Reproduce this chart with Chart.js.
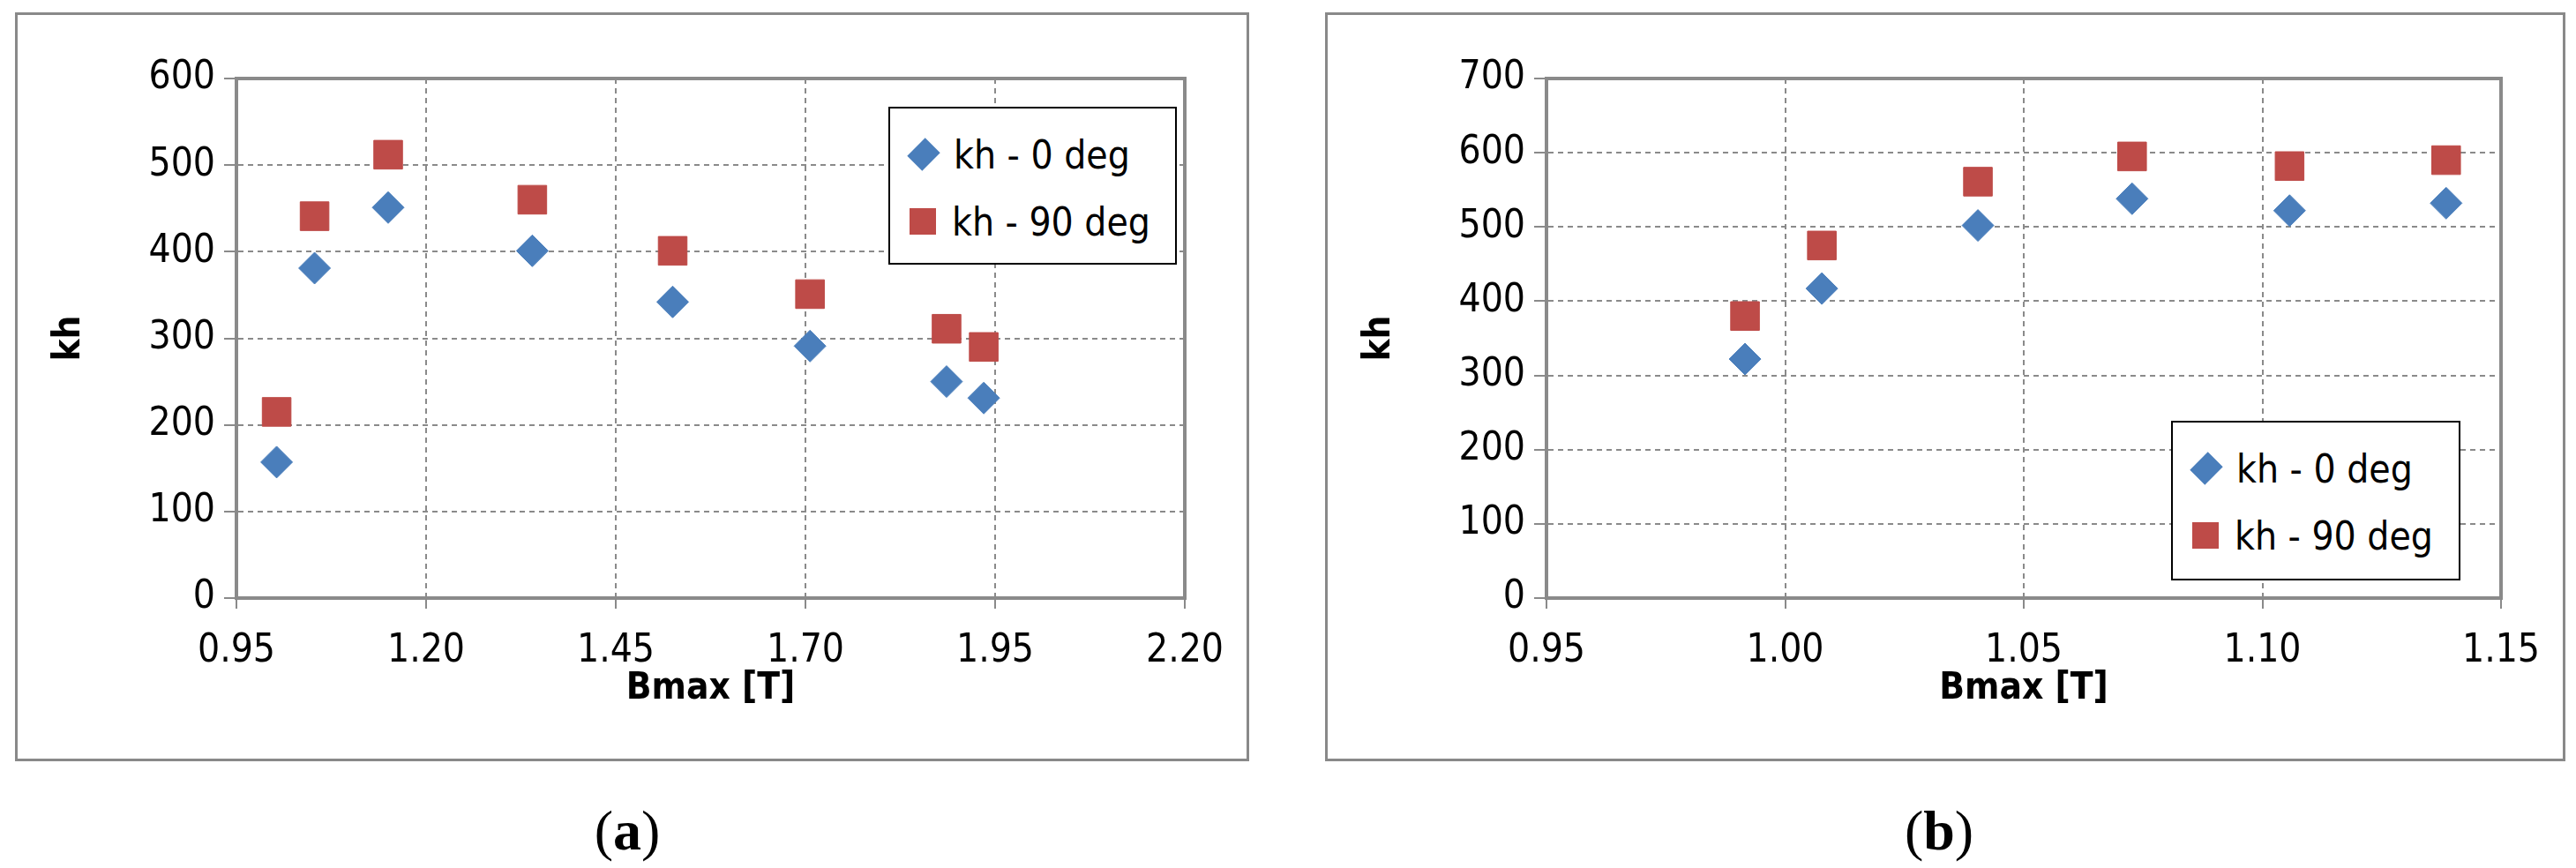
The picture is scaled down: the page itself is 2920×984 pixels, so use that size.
<!DOCTYPE html>
<html>
<head>
<meta charset="utf-8">
<script src="https://cdn.jsdelivr.net/npm/chart.js@4/dist/chart.umd.min.js"></script>
<style>
  body { margin: 0; background: #fff; width: 2920px; height: 984px; position: relative; overflow: hidden; }
  .panel { position: absolute; top: 14px; height: 849px; border: 3px solid #898989; box-sizing: border-box; }
  .panel canvas { position: absolute; left: 0; top: 0; }
  .legend { position: absolute; border: 2px solid #000; background: #fff; box-sizing: border-box; white-space: nowrap;
            font-family: "DejaVu Sans Condensed", "Liberation Sans Narrow", "Open Sans", sans-serif; font-size: 44px; color: #000; padding: 14px 0 0 22px; }
  .legend div { height: 76px; display: flex; align-items: center; }
  .sw { display: inline-block; margin-right: 18px; }
  .dia { width: 24px; height: 24px; background: #4a7ebb; transform: rotate(45deg) scaleY(1.2); margin-left: 4px; margin-right: 22px; }
  .sq { width: 30px; height: 30px; background: #be4b48; }
  .cap { position: absolute; top: 905px; font-family: "Liberation Serif", serif; font-size: 64px; transform: translateX(-50%); }
  .cap b { font-weight: bold; }
</style>
</head>
<body>
<div class="panel" id="pa" style="left:17px;width:1399px;"><canvas id="ca"></canvas></div>
<div class="panel" id="pb" style="left:1502px;width:1406px;"><canvas id="cb"></canvas></div>
<div class="legend" style="left:1007px;top:121px;width:327px;height:179px;">
  <div><span class="sw dia"></span>kh - 0 deg</div>
  <div><span class="sw sq"></span>kh - 90 deg</div>
</div>
<div class="legend" style="left:2461px;top:477px;width:328px;height:181px;">
  <div><span class="sw dia"></span>kh - 0 deg</div>
  <div><span class="sw sq"></span>kh - 90 deg</div>
</div>
<div class="cap" style="left:711px;">(<b>a</b>)</div>
<div class="cap" style="left:2198px;">(<b>b</b>)</div>
<script>
// panel (a)
const bA = [1.003, 1.053, 1.15, 1.34, 1.525, 1.706, 1.886, 1.935];
const kh0A = [157, 381, 451, 401, 342, 291, 250, 231];
const kh90A = [215, 441, 512, 460, 401, 351, 311, 290];
// panel (b)
const bB = [0.9916, 1.0077, 1.0404, 1.0727, 1.1057, 1.1385];
const kh0B = [322, 417, 502, 538, 522, 532];
const kh90B = [380, 475, 561, 595, 582, 590];

const fam = "'DejaVu Sans Condensed', 'Liberation Sans Narrow', 'Open Sans', sans-serif";
const tickFont = { family: fam, size: 44 };
const titleFont = { family: fam, size: 42, weight: "bold" };

function pts(xs, ys) {
      return xs.map((x, i) => ({ x: x, y: ys[i] }));
}

function makeChart(id, w, xs, y0, y90, xMin, xMax, xStep, yMax) {
      const ctx = document.getElementById(id);
      ctx.width = w - 6;
      ctx.height = 843;
      ctx.style.width = (w - 6) + "px";
      ctx.style.height = "843px";
      return new Chart(ctx, {
            type: "scatter",
            data: {
                  datasets: [
                        {
                              label: "kh - 0 deg",
                              data: pts(xs, y0),
                              pointStyle: "rectRot",
                              pointRadius: 18,
                              backgroundColor: "#4a7ebb",
                              borderColor: "#4a7ebb",
                        },
                        {
                              label: "kh - 90 deg",
                              data: pts(xs, y90),
                              pointStyle: "rect",
                              pointRadius: 23,
                              backgroundColor: "#be4b48",
                              borderColor: "#be4b48",
                        },
                  ],
            },
            options: {
                  responsive: false,
                  animation: false,
                  layout: { padding: { left: 30, top: 72, right: 70, bottom: 50 } },
                  plugins: { legend: { display: false }, tooltip: { enabled: false } },
                  scales: {
                        x: {
                              min: xMin,
                              max: xMax,
                              afterFit: (s) => { s.height = 132; },
                              afterBuildTicks: (s) => {
                                    const t = [];
                                    for (let v = xMin; v <= xMax + 1e-9; v += xStep) t.push({ value: +v.toFixed(4) });
                                    s.ticks = t;
                              },
                              ticks: { font: tickFont, color: "#000", padding: 22, callback: (v) => v.toFixed(2) },
                              grid: { color: "#8a8a8a", lineWidth: 2, tickLength: 12, tickColor: "#8a8a8a", drawTicks: true },
                              border: { color: "#8a8a8a", width: 4, dash: [6, 5] },
                              title: { display: true, text: "Bmax [T]", font: titleFont, color: "#000", padding: { top: 22 } },
                        },
                        y: {
                              min: 0,
                              max: yMax,
                              afterFit: (s) => { s.width = 218; },
                              ticks: { font: tickFont, color: "#000", stepSize: 100, padding: 10 },
                              grid: { color: "#8a8a8a", lineWidth: 2, tickLength: 14, tickColor: "#8a8a8a" },
                              border: { color: "#8a8a8a", width: 4, dash: [6, 5] },
                              title: { display: true, text: "kh", font: titleFont, color: "#000" },
                        },
                  },
            },
            plugins: [{
                  id: "frame",
                  beforeDatasetsDraw(chart) {
                        const a = chart.chartArea, c = chart.ctx;
                        c.save();
                        c.strokeStyle = "#8a8a8a";
                        c.lineWidth = 4;
                        c.setLineDash([]);
                        c.strokeRect(a.left, a.top, a.right - a.left, a.bottom - a.top);
                        c.restore();
                  },
            }],
      });
}

makeChart("ca", 1399, bA, kh0A, kh90A, 0.95, 2.2, 0.25, 600);
makeChart("cb", 1406, bB, kh0B, kh90B, 0.95, 1.15, 0.05, 700);
</script>
</body>
</html>
